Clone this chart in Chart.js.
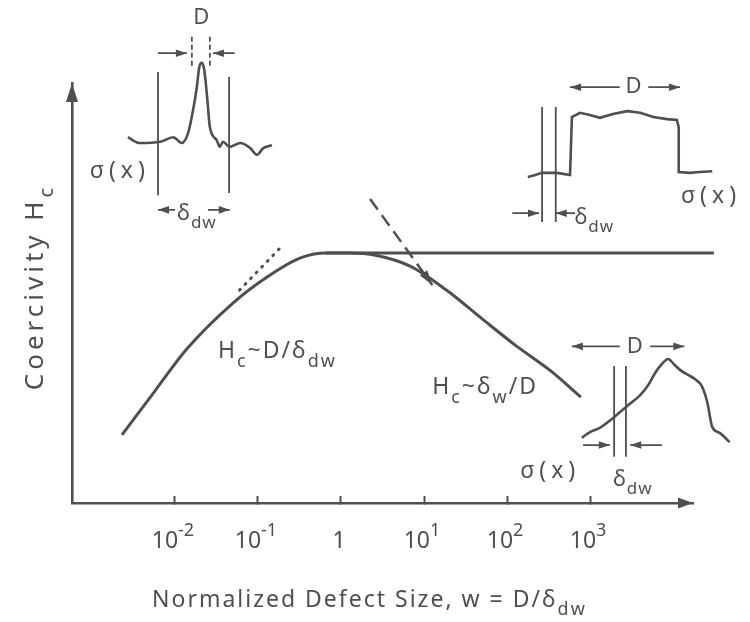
<!DOCTYPE html>
<html>
<head>
<meta charset="utf-8">
<title>Coercivity vs normalized defect size</title>
<script src="https://cdn.jsdelivr.net/npm/chart.js@4.4.1/dist/chart.umd.min.js"></script>
<style>
  html, body { margin: 0; background: #fff; }
  canvas { display: block; }
</style>
</head>
<body>
<canvas id="chart" width="750" height="622"></canvas>
<script>
const INK = '#4f4f4f';
const FONT = '"Noto Sans", "DejaVu Sans", sans-serif';

// x axis: decades of w = D/δdw
const tickW = [0.01, 0.1, 1, 10, 100, 1000];
const tickLabels = ['10^{-2}', '10^{-1}', '1', '10^{1}', '10^{2}', '10^{3}'];

// Hc against w (arbitrary units, 1 = top of the axis)
const curveW  = [0.0023, 0.0057, 0.0138, 0.050, 0.129, 0.32, 0.66, 1.29, 2.6, 6.8, 18.6, 49, 129, 339, 776];
const curveHc = [0.162, 0.266, 0.366, 0.476, 0.538, 0.583, 0.595, 0.595, 0.590, 0.564, 0.507, 0.440, 0.374, 0.314, 0.252];

// flat upper line and the two asymptotes
const plateauW  = [0.66, 31000];
const plateauHc = [0.595, 0.595];
const smallW  = [0.060, 0.20];   // dotted: Hc ~ D/δdw
const smallHc = [0.507, 0.614];
const largeW  = [2.24, 12.6];    // dashed: Hc ~ δw/D
const largeHc = [0.724, 0.519];

// inset sketches of σ(x), in percent of the plot frame (0-100 across and up)
const peakX = [9.0, 10.9, 14.2, 16.3, 17.7, 18.7, 19.5, 20.1, 20.5, 20.9, 21.3, 21.8, 22.2, 23.3, 23.8, 24.3, 25.4, 27.1, 28.7, 29.8, 30.8, 32.2];
const peakY = [87.1, 85.7, 86.0, 87.1, 85.7, 88.1, 93.6, 99.0, 103.8, 104.8, 103.1, 96.0, 89.5, 86.4, 84.8, 86.0, 84.8, 85.7, 84.5, 82.9, 84.5, 85.2];
const stepX = [73.4, 74.6, 75.7, 78.1, 80.2, 80.5, 81.8, 83.4, 85.0, 87.1, 89.4, 91.5, 93.6, 95.8, 97.4, 97.7, 97.7, 99.5, 101.1, 103.1];
const stepY = [77.6, 78.1, 78.6, 78.6, 78.1, 91.9, 92.9, 92.4, 91.7, 92.6, 93.3, 92.9, 91.9, 91.4, 91.2, 89.5, 78.8, 78.6, 78.8, 79.0];
const bumpX = [82.1, 83.4, 85.0, 87.1, 89.4, 91.5, 92.8, 94.0, 95.0, 96.0, 96.9, 97.9, 99.2, 100.3, 101.4, 102.3, 103.1, 104.3, 105.9];
const bumpY = [15.5, 16.9, 17.9, 20.2, 23.1, 25.7, 28.1, 31.2, 33.1, 34.3, 33.1, 31.7, 30.5, 29.5, 27.9, 24.0, 18.1, 16.7, 14.5];

// domain wall lines of the insets
const wallX      = [13.85, 25.3, 75.7, 77.9, 87.3, 89.2];
const wallTop    = [102.6, 101.4, 94.3, 94.3, 32.6, 32.6];
const wallBottom = [73.3, 73.8, 66.9, 66.9, 11.0, 11.0];
// dashed marks of the defect width D in the first inset
const markX      = [19.3, 22.2];
const markTop    = [111.0, 111.0];
const markBottom = [103.6, 103.6];

// dimension arrows, tip at "to"
const arrowFrom = [13.85, 26.2, 16.6, 21.9, 88.2, 92.8, 70.9, 81.0, 88.2, 93.1, 82.3, 95.0];
const arrowTo   = [18.5, 22.7, 13.85, 25.4, 80.2, 97.9, 75.2, 77.9, 80.5, 98.6, 86.6, 89.9];
const arrowY    = [107.1, 107.1, 69.8, 69.8, 99.0, 99.0, 69.0, 69.0, 37.3, 37.3, 13.8, 13.8];

// text in the plot, same percent units
const notes = [
  { text: 'D', x: 20.9, y: 115.5, align: 'center' },
  { text: 'σ(x)', x: 7.7, y: 79.0, align: 'center' },
  { text: 'δ_{dw}', x: 16.9, y: 68.8, align: 'left' },
  { text: 'D', x: 90.5, y: 99.0, align: 'center' },
  { text: 'σ(x)', x: 102.9, y: 73.1, align: 'center' },
  { text: 'δ_{dw}', x: 80.9, y: 67.9, align: 'left' },
  { text: 'D', x: 90.7, y: 37.3, align: 'center' },
  { text: 'σ(x)', x: 77.0, y: 7.4, align: 'center' },
  { text: 'δ_{dw}', x: 87.1, y: 5.5, align: 'left' },
  { text: 'H_{c}~D/δ_{dw}', x: 23.5, y: 36.0, align: 'left' },
  { text: 'H_{c}~δ_{w}/D', x: 58.0, y: 27.4, align: 'left' }
];

const pts = (xs, ys) => xs.map((x, i) => ({ x, y: ys[i] }));

// vertical segments split by gap points
function segments(xs, tops, bottoms) {
  const out = [];
  xs.forEach((x, i) => out.push({ x, y: tops[i] }, { x, y: bottoms[i] }, { x, y: null }));
  return out;
}

const arrowData = [];
arrowFrom.forEach((x, i) => {
  arrowData.push({ x, y: arrowY[i] }, { x: arrowTo[i], y: arrowY[i] }, { x: arrowTo[i], y: null });
});

function line(data, extra) {
  return Object.assign({
    data, borderColor: INK, borderWidth: 3, pointRadius: 0,
    xAxisID: 'x', yAxisID: 'y', clip: false
  }, extra);
}
function sketch(data, extra) {
  return line(data, Object.assign({ xAxisID: 'sx', yAxisID: 'sy', borderWidth: 2.2 }, extra));
}

// text with _{sub} and ^{sup} parts
function drawRich(ctx, text, x, y, size, align) {
  const bits = text.split(/([_^])\{([^}]*)\}/);
  const parts = [];
  for (let i = 0; i < bits.length; i += 3) {
    if (bits[i]) parts.push({ t: bits[i], m: '' });
    if (bits[i + 2]) parts.push({ t: bits[i + 2], m: bits[i + 1] });
  }
  const fontOf = p => (p.m ? Math.round(size * 0.78) : size) + 'px ' + FONT;
  let width = 0;
  parts.forEach(p => { ctx.font = fontOf(p); width += ctx.measureText(p.t).width; });
  let cx = align === 'center' ? x - width / 2 : x;
  ctx.textAlign = 'left';
  ctx.textBaseline = 'middle';
  parts.forEach(p => {
    ctx.font = fontOf(p);
    const dy = p.m === '_' ? size * 0.42 : p.m === '^' ? -size * 0.45 : 0;
    ctx.fillText(p.t, cx, y + dy);
    cx += ctx.measureText(p.t).width;
  });
}

function drawHead(ctx, tip, from, len, half) {
  const ang = Math.atan2(tip.y - from.y, tip.x - from.x);
  ctx.save();
  ctx.translate(tip.x, tip.y);
  ctx.rotate(ang);
  ctx.beginPath();
  ctx.moveTo(0, 0);
  ctx.lineTo(-len, -half);
  ctx.lineTo(-len, half);
  ctx.closePath();
  ctx.fill();
  ctx.restore();
}

const decorations = {
  id: 'decorations',
  afterDatasetsDraw(chart) {
    const { ctx, chartArea: a, scales } = chart;
    ctx.save();
    ctx.fillStyle = INK;

    // axis arrow heads
    drawHead(ctx, { x: a.left, y: a.top }, { x: a.left, y: a.bottom }, 19, 6);
    drawHead(ctx, { x: a.right, y: a.bottom }, { x: a.left, y: a.bottom }, 15, 5.5);

    // arrow heads at the end of each piece of the arrow datasets
    chart.data.datasets.forEach((ds, i) => {
      if (!ds.head) return;
      const els = chart.getDatasetMeta(i).data;
      ds.data.forEach((p, j) => {
        const n = ds.data[j + 1], q = ds.data[j - 1];
        if (p.y === null || !q || q.y === null || (n && n.y !== null)) return;
        drawHead(ctx, els[j], els[j - 1], ds.head[0], ds.head[1]);
      });
    });

    // tick labels
    tickW.forEach((v, i) => {
      drawRich(ctx, tickLabels[i], scales.x.getPixelForValue(v) - 2, a.bottom + 38, 23, 'center');
    });

    notes.forEach(n => {
      const main = n.text.startsWith('H');
      const sigma = n.text.startsWith('σ');
      ctx.letterSpacing = main ? '2px' : sigma ? '5px' : '1px';
      drawRich(ctx, n.text, scales.sx.getPixelForValue(n.x), scales.sy.getPixelForValue(n.y), main || sigma ? 23 : 22, n.align);
    });

    // axis titles
    ctx.letterSpacing = '2px';
    drawRich(ctx, 'Normalized Defect Size, w = D/δ_{dw}', a.left + 80, a.bottom + 97, 23, 'left');
    ctx.letterSpacing = '4px';
    ctx.translate(a.left - 36, (a.top + a.bottom) / 2 - 6);
    ctx.rotate(-Math.PI / 2);
    drawRich(ctx, 'Coercivity H_{c}', 0, 0, 26, 'center');
    ctx.restore();
  }
};

// fixed 0-100 frame for the sketches without culling points past the edge
const frame = s => { s.min = 0; s.max = 100; };

Chart.defaults.font.family = FONT;
Chart.defaults.color = INK;

new Chart(document.getElementById('chart'), {
  type: 'line',
  data: {
    datasets: [
      line(pts(curveW, curveHc), { cubicInterpolationMode: 'monotone' }),
      line(pts(plateauW, plateauHc)),
      line(pts(smallW, smallHc), { borderDash: [1, 7], borderCapStyle: 'round', borderWidth: 3 }),
      line(pts(largeW, largeHc), { borderDash: [13, 7], borderWidth: 2.5, head: [15, 4.5] }),
      sketch(pts(peakX, peakY), { cubicInterpolationMode: 'monotone', borderWidth: 2.6 }),
      sketch(pts(stepX, stepY), { borderWidth: 2.6 }),
      sketch(pts(bumpX, bumpY), { cubicInterpolationMode: 'monotone', borderWidth: 2.6 }),
      sketch(segments(wallX, wallTop, wallBottom), { borderWidth: 1.8 }),
      sketch(segments(markX, markTop, markBottom), { borderWidth: 1.8, borderDash: [5, 3] }),
      sketch(arrowData, { borderWidth: 1.8, head: [11, 3.8] })
    ]
  },
  options: {
    responsive: false,
    devicePixelRatio: 1,
    animation: false,
    events: [],
    layout: { padding: { left: 72, right: 57, top: 83, bottom: 0 } },
    plugins: { legend: { display: false }, tooltip: { enabled: false } },
    scales: {
      x: {
        type: 'logarithmic',
        min: Math.pow(10, -3.24),
        max: Math.pow(10, 4.24),
        afterBuildTicks: s => { s.ticks = tickW.map(v => ({ value: v })); },
        afterFit: s => { s.height = 119; },
        ticks: { display: false },
        grid: { display: true, drawOnChartArea: false, drawTicks: true, tickLength: -7, tickWidth: 2, color: INK, tickColor: INK },
        border: { display: true, color: INK, width: 2.6 }
      },
      y: {
        min: 0, max: 1,
        afterFit: s => { s.width = 0; },
        ticks: { display: false },
        grid: { display: false },
        border: { display: true, color: INK, width: 2.6 }
      },
      sx: { type: 'linear', axis: 'x', position: 'bottom', display: false, afterDataLimits: frame },
      sy: { type: 'linear', axis: 'y', position: 'left', display: false, afterDataLimits: frame }
    }
  },
  plugins: [decorations]
});
</script>
</body>
</html>
